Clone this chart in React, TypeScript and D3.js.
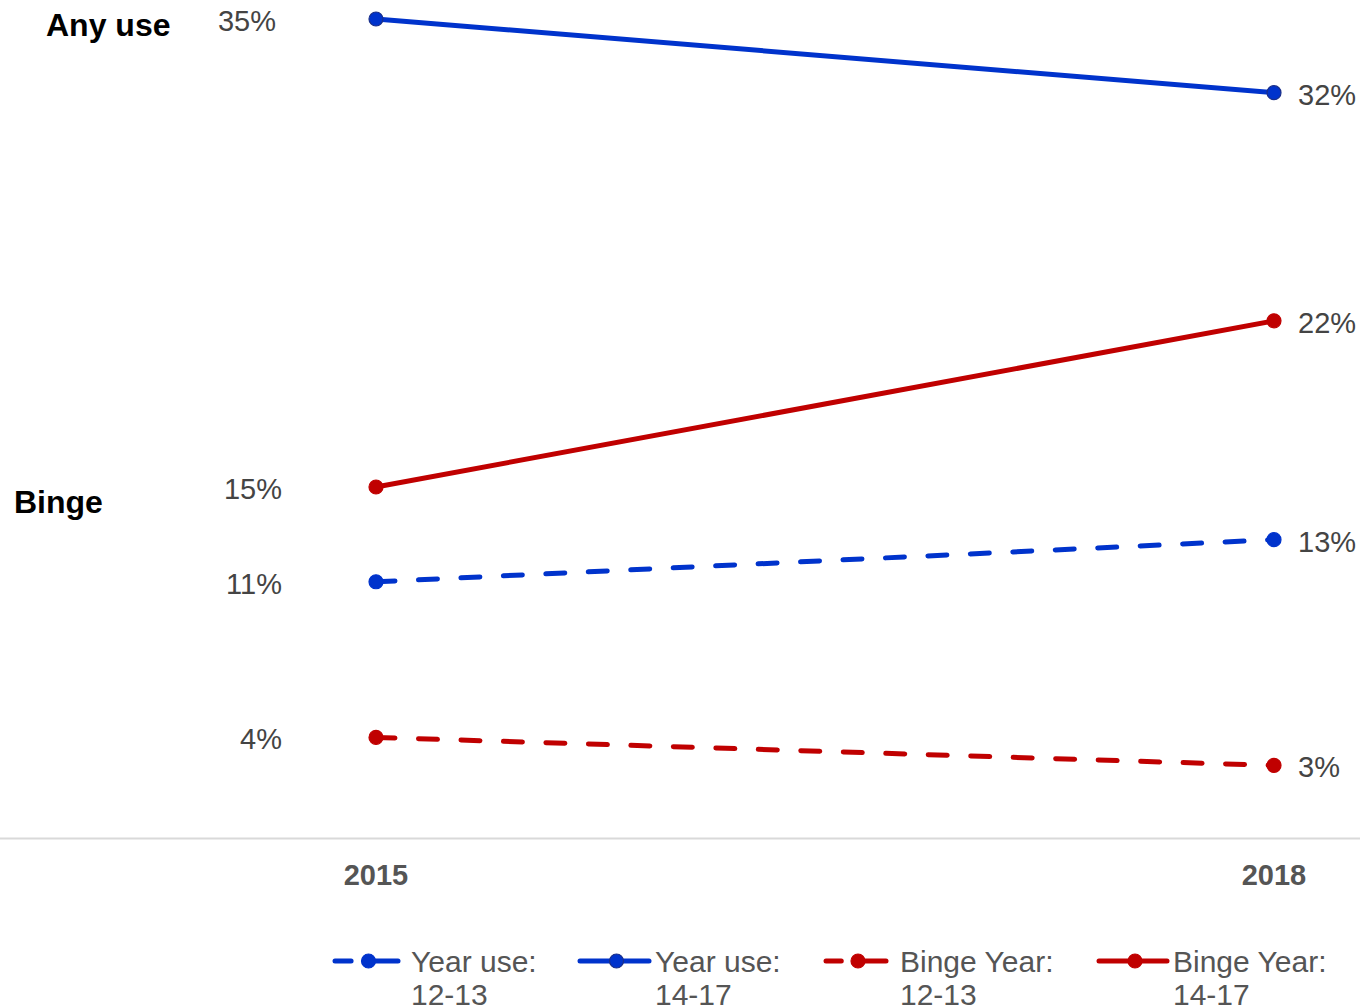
import React from "react";
import * as d3 from "d3";

const years = ["2015", "2018"];
const seriesNames = ["Year use: 12-13", "Year use: 14-17", "Binge Year: 12-13", "Binge Year: 14-17"];
const yearUse1213 = [10.95, 12.75];
const yearUse1417 = [35.0, 31.85];
const binge1213 = [4.3, 3.1];
const binge1417 = [15.0, 22.1];
const labels1213Use = ["11%", "13%"];
const labels1417Use = ["35%", "32%"];
const labels1213Binge = ["4%", "3%"];
const labels1417Binge = ["15%", "22%"];
const groupLabels = ["Any use", "Binge"];

const BLUE = "#0033cc";
const RED = "#c00000";

export default function App() {
  const W = 1360, H = 1006;
  const x = d3.scalePoint<string>().domain(years).range([376, 1274]);
  const y = d3.scaleLinear().domain([0, 35]).range([838, 19]);
  const line = d3.line<number>().x((_, i) => x(years[i]) as number).y((d) => y(d));

  const series = [
    { name: seriesNames[0], vals: yearUse1213, labels: labels1213Use, color: BLUE, dashed: true, stroke: BLUE },
    { name: seriesNames[1], vals: yearUse1417, labels: labels1417Use, color: BLUE, dashed: false, stroke: "#1a2f8a" },
    { name: seriesNames[2], vals: binge1213, labels: labels1213Binge, color: RED, dashed: true, stroke: RED },
    { name: seriesNames[3], vals: binge1417, labels: labels1417Binge, color: RED, dashed: false, stroke: RED },
  ];

  const legendX = [333, 578, 824, 1097];
  const legendW = [67, 73, 64, 72];
  const legendTextX = [411, 655, 900, 1173];

  return (
    <svg width={W} height={H} style={{ position: "absolute", left: 0, top: 0, fontFamily: "'Liberation Sans', Arial, sans-serif" }}>
      <rect width={W} height={H} fill="#fff" />
      <line x1={0} x2={W} y1={838.5} y2={838.5} stroke="#d9d9d9" strokeWidth={2} />
      {years.map((yr) => (
        <text key={yr} x={x(yr)} y={885} textAnchor="middle" fontSize={29} fontWeight="bold" fill="#555">
          {yr}
        </text>
      ))}
      <text x={46} y={36} fontSize={32} fontWeight="bold" fill="#000">{groupLabels[0]}</text>
      <text x={14} y={513} fontSize={32} fontWeight="bold" fill="#000">{groupLabels[1]}</text>
      {series.map((s) => (
        <g key={s.name}>
          <path d={line(s.vals) || ""} fill="none" stroke={s.color} strokeWidth={5}
            strokeLinecap={s.dashed ? "round" : "butt"}
            strokeDasharray={s.dashed ? "19,23.5" : undefined} />
          {s.vals.map((v, i) => (
            <circle key={i} cx={x(years[i])} cy={y(v)} r={7} fill={s.color} stroke={s.stroke} strokeWidth={1.2} />
          ))}
          <text x={s.labels[0] === "35%" ? 276 : 282} y={y(s.vals[0]) + 12} textAnchor="end" fontSize={29} fill="#444">{s.labels[0]}</text>
          <text x={1298} y={y(s.vals[1]) + 12} textAnchor="start" fontSize={29} fill="#444">{s.labels[1]}</text>
        </g>
      ))}
      {series.map((s, i) => {
        const lx = legendX[i];
        const lw = legendW[i];
        const cy = 961;
        const parts = s.name.split(" ");
        const last = parts.pop();
        const tx = legendTextX[i];
        return (
          <g key={"lg" + i}>
            {s.dashed ? (
              <>
                <line x1={lx + 2} x2={lx + lw * 0.27} y1={cy} y2={cy} stroke={s.color} strokeWidth={5} strokeLinecap="round" />
                <line x1={lx + lw * 0.55} x2={lx + lw - 2} y1={cy} y2={cy} stroke={s.color} strokeWidth={5} strokeLinecap="round" />
              </>
            ) : (
              <line x1={lx + 2} x2={lx + lw - 2} y1={cy} y2={cy} stroke={s.color} strokeWidth={5} strokeLinecap="round" />
            )}
            <circle cx={lx + lw / 2 + 2} cy={cy} r={7} fill={s.color} stroke={s.stroke} strokeWidth={1.2} />
            <text x={tx} y={972} fontSize={30} fill="#555">
              {parts.join(" ")}
              <tspan x={tx} dy={33}>{last}</tspan>
            </text>
          </g>
        );
      })}
    </svg>
  );
}
